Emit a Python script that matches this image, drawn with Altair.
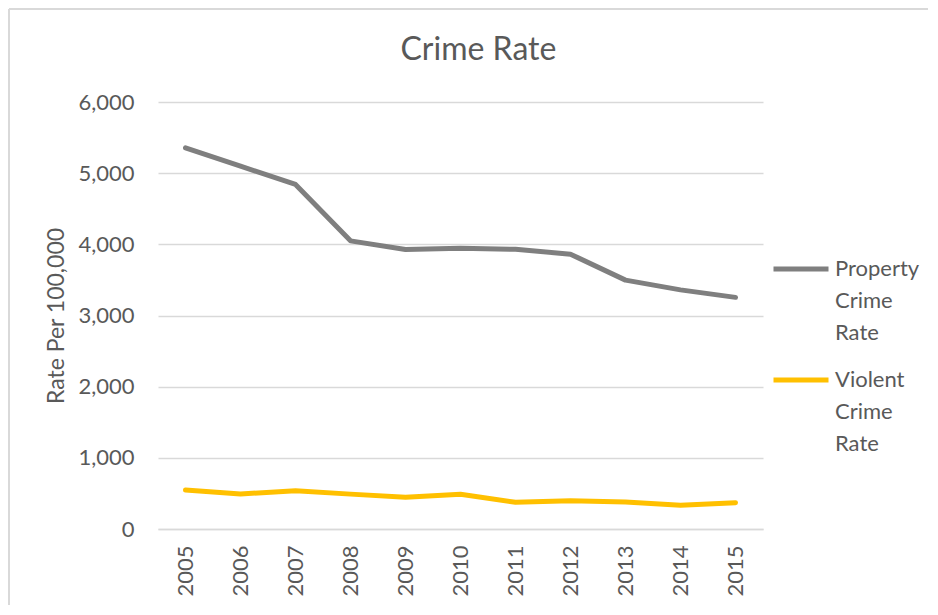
import altair as alt
import pandas as pd

years = ["2005", "2006", "2007", "2008", "2009", "2010", "2011", "2012", "2013", "2014", "2015"]
property_rate = [5355, 5098, 4841, 4049, 3928, 3946, 3930, 3862, 3497, 3360, 3255]
violent_rate = [548, 492, 538, 490, 445, 487, 375, 398, 379, 333, 370]
series_names = ["Property Crime Rate", "Violent Crime Rate"]
series_colors = ["#7f7f7f", "#ffc000"]

rows = []
for i, y in enumerate(years):
    rows.append({"Year": y, "Series": series_names[0], "Rate": property_rate[i]})
    rows.append({"Year": y, "Series": series_names[1], "Rate": violent_rate[i]})
df = pd.DataFrame(rows)

FONT = "Lato"
TXT = "#595959"
GRID = "#d9d9d9"

lines = alt.Chart(df).mark_line(strokeWidth=5, strokeCap="round", strokeJoin="round").encode(
    x=alt.X("Year:O", sort=years, scale=alt.Scale(type="point", padding=0.5),
            axis=alt.Axis(title=None, labelAngle=270, labelAlign="right", labelBaseline="middle",
                          labelPadding=16, ticks=False, domainColor=GRID, domainWidth=1.5,
                          grid=False)),
    y=alt.Y("Rate:Q", scale=alt.Scale(domain=[0, 6000], nice=False),
            axis=alt.Axis(title="Rate Per 100,000", values=[0, 1000, 2000, 3000, 4000, 5000, 6000],
                          format=",.0f", domain=False, ticks=False, labelPadding=24,
                          gridColor=GRID, gridWidth=1.5, titlePadding=9)),
    color=alt.Color("Series:N", sort=series_names,
                    scale=alt.Scale(domain=series_names, range=series_colors),
                    legend=alt.Legend(title=None, orient="none", legendX=613, legendY=137,
                                      symbolType="stroke", symbolSize=3025, symbolStrokeWidth=5,
                                      labelExpr="split(datum.label, ' ')", labelLimit=300,
                                      labelBaseline="middle", labelOffset=4, rowPadding=6)),
)

border = alt.Chart(pd.DataFrame({"k": [0]})).mark_rule(color=GRID, strokeWidth=2).encode(
    x=alt.value(-149), y=alt.value(-93), y2=alt.value(520)
)
border_top = alt.Chart(pd.DataFrame({"k": [0]})).mark_rule(color=GRID, strokeWidth=2).encode(
    x=alt.value(-149), x2=alt.value(770), y=alt.value(-93)
)

chart = alt.layer(border, border_top, lines).properties(
    width=605, height=427,
    autosize=alt.AutoSizeParams(type="none"),
    padding={"left": 150, "top": 94, "right": 165, "bottom": 76},
    title=alt.TitleParams("Crime Rate", fontSize=32, font=FONT, color=TXT, fontWeight="normal",
                          dx=18, dy=59, offset=0, frame="group"),
).configure_view(stroke=None).configure_axis(
    labelFont=FONT, labelFontSize=22, labelColor=TXT, titleFont=FONT, titleFontSize=23,
    titleColor=TXT, titleFontWeight="normal"
).configure_legend(
    labelFont=FONT, labelFontSize=22, labelColor=TXT
)
chart.config.style = {"guide-label": {"lineHeight": 32}}

chart.save("out.html", embed_options={"renderer": "svg", "actions": False})
